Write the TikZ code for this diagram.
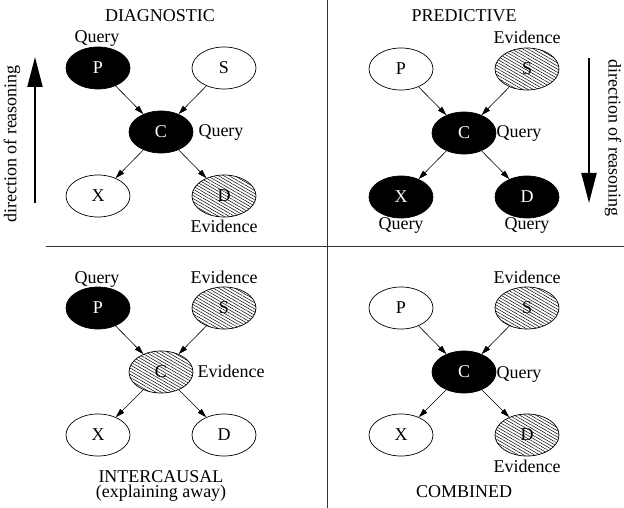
\documentclass[tikz,border=0pt]{standalone}
\usepackage{fontspec}
\setmainfont{Liberation Serif}
\usetikzlibrary{shapes.geometric,patterns.meta,arrows.meta}
\tikzset{
  nd/.style={ellipse,draw,line width=0.7pt,minimum width=64pt,minimum height=42pt,inner sep=0pt,font=\fontsize{18}{20}\selectfont},
  qry/.style={nd,fill=black,text=white},
  evd/.style={nd,pattern={Lines[angle=-30,distance=2.7pt,line width=0.5pt]}},
  lbl/.style={font=\fontsize{18}{20}\selectfont,anchor=base,inner sep=0pt},
  edge/.style={line width=0.6pt,-{Triangle[length=9pt,width=5.5pt]}},
  bigarrow/.style={line width=2pt,-{Triangle[length=30pt,width=15pt]}},
  sep/.style={line width=0.7pt,draw=black!80}
}
\begin{document}
\begin{tikzpicture}[x=1pt,y=-1pt]
\useasboundingbox (0,0) rectangle (624,508);
% separators
\coordinate (vt) at (327,0);
\coordinate (vb) at (327,508);
\coordinate (hl) at (46,246);
\coordinate (hr) at (624,246);
\draw[sep] (vt) -- (vb);
\draw[sep] (hl) -- (hr);

% ---- DIAGNOSTIC ----
\node[lbl] (t1) at (160,22) {DIAGNOSTIC};
\node[qry] (p1) at (98,68) {P};
\node[nd]  (s1) at (224,68) {S};
\node[qry] (c1) at (161,132) {C};
\node[nd]  (x1) at (98,196) {X};
\node[evd] (d1) at (224,196) {D};
\node[lbl] (lp1) at (97,43) {Query};
\node[lbl] (lc1) at (221,137) {Query};
\node[lbl] (ld1) at (224,232) {Evidence};
\draw[edge] (p1) -- (c1);
\draw[edge] (s1) -- (c1);
\draw[edge] (c1) -- (x1);
\draw[edge] (c1) -- (d1);
\coordinate (a1s) at (35,203);
\coordinate (a1e) at (35,57);
\draw[bigarrow] (a1s) -- (a1e);
\node[lbl,anchor=center,rotate=90] (r1) at (12,144) {direction of reasoning};

% ---- PREDICTIVE ----
\node[lbl] (t2) at (464,22) {PREDICTIVE};
\node[nd]  (p2) at (401,69) {P};
\node[evd] (s2) at (527,69) {S};
\node[qry] (c2) at (464,133) {C};
\node[qry] (x2) at (401,197) {X};
\node[qry] (d2) at (527,197) {D};
\node[lbl] (ls2) at (527,44) {Evidence};
\node[lbl] (lc2) at (519,138) {Query};
\node[lbl] (lx2) at (401,229) {Query};
\node[lbl] (ld2) at (527,229) {Query};
\draw[edge] (p2) -- (c2);
\draw[edge] (s2) -- (c2);
\draw[edge] (c2) -- (x2);
\draw[edge] (c2) -- (d2);
\coordinate (a2s) at (589,58);
\coordinate (a2e) at (589,203);
\draw[bigarrow] (a2s) -- (a2e);
\node[lbl,anchor=center,rotate=-90] (r2) at (613,138) {direction of reasoning};

% ---- INTERCAUSAL ----
\node[qry] (p3) at (98,308) {P};
\node[evd] (s3) at (224,308) {S};
\node[evd] (c3) at (161,372) {C};
\node[nd]  (x3) at (98,435) {X};
\node[nd]  (d3) at (224,435) {D};
\node[lbl] (lp3) at (97,283) {Query};
\node[lbl] (ls3) at (224,283) {Evidence};
\node[lbl] (lc3) at (231,377) {Evidence};
\draw[edge] (p3) -- (c3);
\draw[edge] (s3) -- (c3);
\draw[edge] (c3) -- (x3);
\draw[edge] (c3) -- (d3);
\node[lbl,anchor=center,align=center,font=\fontsize{18}{15}\selectfont] (t3) at (161,486) {INTERCAUSAL\\(explaining away)};

% ---- COMBINED ----
\node[nd]  (p4) at (401,308) {P};
\node[evd] (s4) at (527,308) {S};
\node[qry] (c4) at (464,372) {C};
\node[nd]  (x4) at (401,435) {X};
\node[evd] (d4) at (527,435) {D};
\node[lbl] (ls4) at (527,283) {Evidence};
\node[lbl] (lc4) at (519,378) {Query};
\node[lbl] (ld4) at (527,472) {Evidence};
\draw[edge] (p4) -- (c4);
\draw[edge] (s4) -- (c4);
\draw[edge] (c4) -- (x4);
\draw[edge] (c4) -- (d4);
\node[lbl] (t4) at (464,497) {COMBINED};
\end{tikzpicture}
\end{document}
